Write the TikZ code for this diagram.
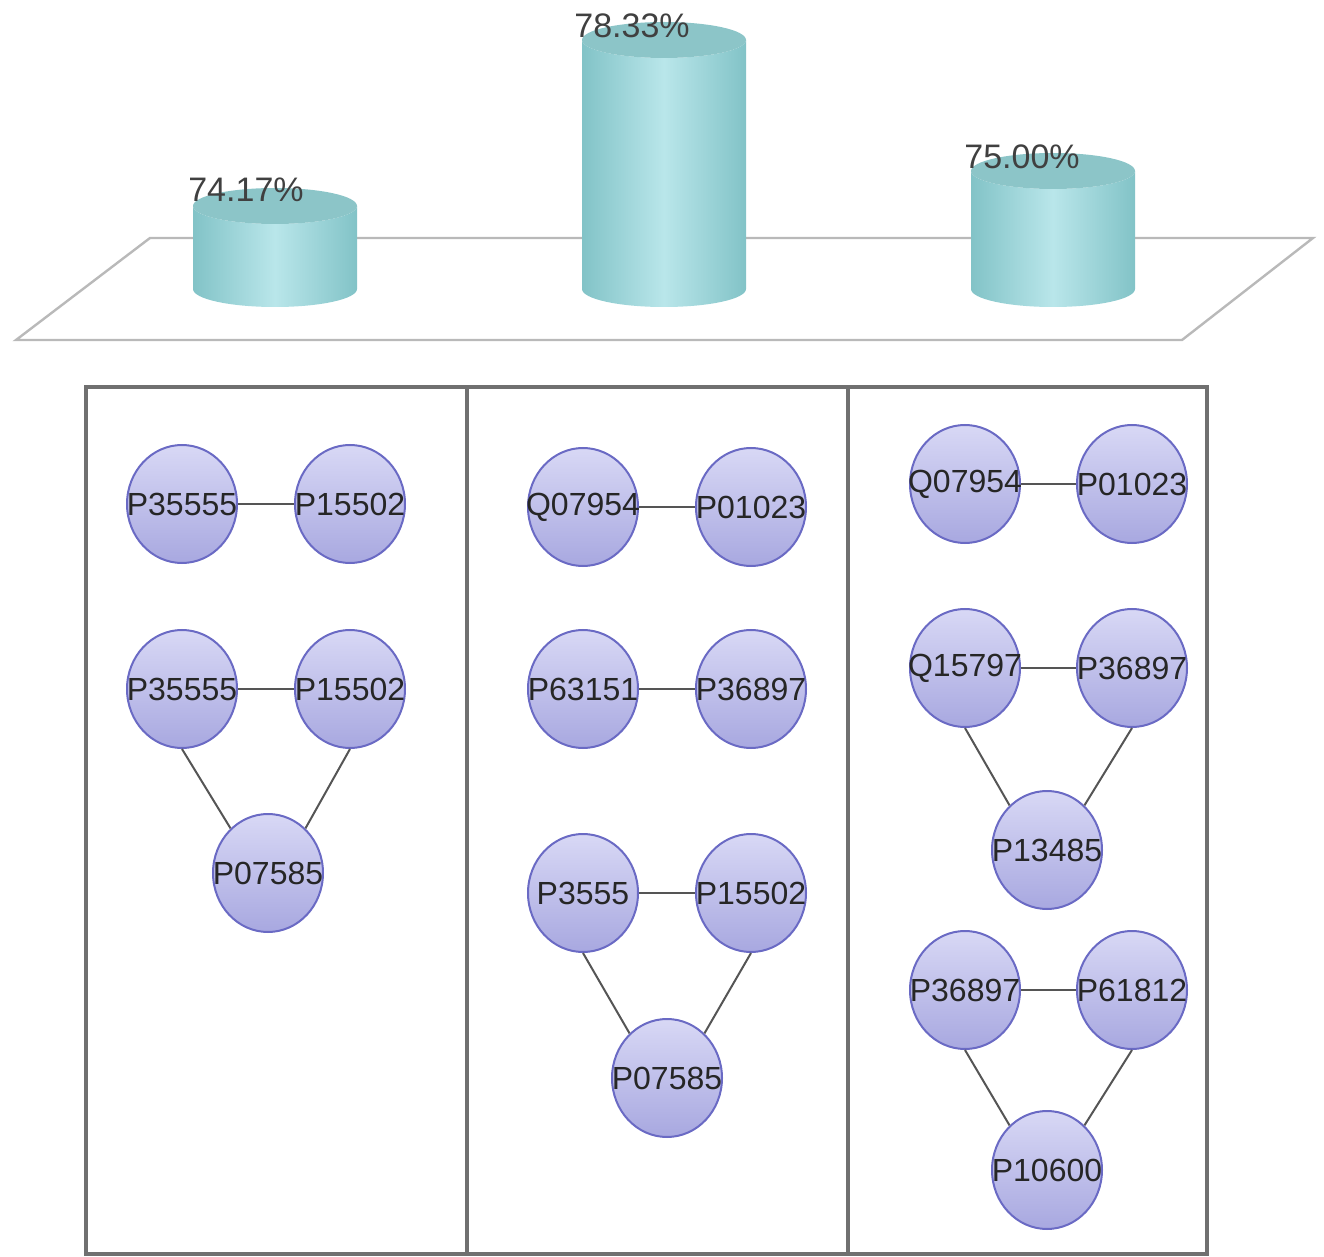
\documentclass[tikz,border=0pt]{standalone}
\usepackage{fontspec}
\setmainfont{Liberation Sans}
\usepackage{tikz}
\usetikzlibrary{shapes.geometric}

\definecolor{barside}{HTML}{82C3C7}
\definecolor{barlight}{HTML}{B9E6EA}
\definecolor{bartop}{HTML}{8CC5C8}
\definecolor{protrim}{HTML}{6A6AC4}
\definecolor{prottop}{HTML}{D8D8F5}
\definecolor{protbot}{HTML}{A8A8E0}
\definecolor{linkgray}{HTML}{555555}
\definecolor{framegray}{HTML}{707070}

% label that does not widen its node
\newcommand{\pid}[1]{\makebox[0pt]{#1}}

\tikzset{
  prot/.style={ellipse, draw=protrim, line width=1pt, top color=prottop,
    bottom color=protbot, minimum width=55pt, minimum height=59pt,
    inner sep=0pt, font=\fontsize{16}{16}\selectfont, text=black!85},
  link/.style={draw=linkgray, line width=1.4pt},
  slant/.style={draw=linkgray, line width=1pt},
  pct/.style={font=\fontsize{17}{17}\selectfont, text=black!75},
}

\begin{document}
\begin{tikzpicture}[x=0.5pt, y=-0.5pt]
        \useasboundingbox (0,0) rectangle (1324,1257);

        % Floor of the bar chart
        \draw[gray!55, line width=1.2pt] (150,238) -- (1313,238) -- (1182,340) -- (16,340) -- cycle;

        % Cylinders (centre x / top y)
        \foreach \x/\yt in {275/206, 664/40, 1053/171} {
            \shade[left color=barside, right color=barside, middle color=barlight]
                ({\x-82},\yt) -- ({\x-82},289)
                arc[start angle=180, end angle=360, x radius=41pt, y radius=9pt]
                -- ({\x+82},\yt)
                arc[start angle=0, end angle=-180, x radius=41pt, y radius=9pt] -- cycle;
            \fill[bartop] (\x,\yt) ellipse [x radius=41pt, y radius=9pt];
        }

        % Percent labels
        \node[pct] (v1) at (246,190) {74.17\%};
        \node[pct] (v2) at (632,26) {78.33\%};
        \node[pct] (v3) at (1022,157) {75.00\%};

        % Frame with three panels
        \draw[framegray, line width=2pt] (86,387) rectangle (1207,1254);
        \foreach \x in {467, 848} {
            \draw[framegray, line width=2pt] (\x,387) -- (\x,1254);
        }

        % Left panel
        \node[prot] (a1) at (182,504) {\pid{P35555}};
        \node[prot] (a2) at (350,504) {\pid{P15502}};
        \node[prot] (a3) at (182,689) {\pid{P35555}};
        \node[prot] (a4) at (350,689) {\pid{P15502}};
        \node[prot] (a5) at (268,873) {\pid{P07585}};
        \draw[link] (a1.east) -- (a2.west);
        \draw[link] (a3.east) -- (a4.west);
        \draw[slant] (a3.south) -- (a5.130);
        \draw[slant] (a4.south) -- (a5.50);

        % Middle panel
        \node[prot] (b1) at (583,507) {\pid{Q07954}};
        \node[prot] (b2) at (751,507) {\pid{P01023}};
        \node[prot] (b3) at (583,689) {\pid{P63151}};
        \node[prot] (b4) at (751,689) {\pid{P36897}};
        \node[prot] (b5) at (583,893) {\pid{P3555}};
        \node[prot] (b6) at (751,893) {\pid{P15502}};
        \node[prot] (b7) at (667,1078) {\pid{P07585}};
        \draw[link] (b1.east) -- (b2.west);
        \draw[link] (b3.east) -- (b4.west);
        \draw[link] (b5.east) -- (b6.west);
        \draw[slant] (b5.south) -- (b7.130);
        \draw[slant] (b6.south) -- (b7.50);

        % Right panel
        \node[prot] (c1) at (965,484) {\pid{Q07954}};
        \node[prot] (c2) at (1132,484) {\pid{P01023}};
        \node[prot] (c3) at (965,668) {\pid{Q15797}};
        \node[prot] (c4) at (1132,668) {\pid{P36897}};
        \node[prot] (c5) at (1047,850) {\pid{P13485}};
        \node[prot] (c6) at (965,990) {\pid{P36897}};
        \node[prot] (c7) at (1132,990) {\pid{P61812}};
        \node[prot] (c8) at (1047,1170) {\pid{P10600}};
        \draw[link] (c1.east) -- (c2.west);
        \draw[link] (c3.east) -- (c4.west);
        \draw[slant] (c3.south) -- (c5.130);
        \draw[slant] (c4.south) -- (c5.50);
        \draw[link] (c6.east) -- (c7.west);
        \draw[slant] (c6.south) -- (c8.130);
        \draw[slant] (c7.south) -- (c8.50);

    \end{tikzpicture}
\end{document}
